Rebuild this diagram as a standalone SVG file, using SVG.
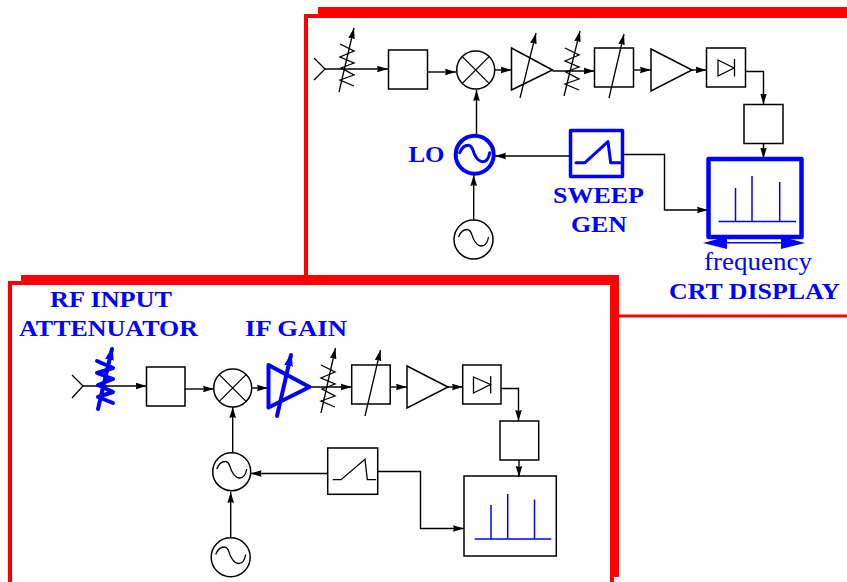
<svg xmlns="http://www.w3.org/2000/svg" width="847" height="582" viewBox="0 0 847 582">
<style>
.c{fill:none;stroke:#000;stroke-width:1.4}
.n{fill:none;stroke:#000;stroke-width:1.5}
.t{fill:none;stroke:#000;stroke-width:1.3}
.b{fill:none;stroke:#00f;stroke-width:4;stroke-linecap:round;stroke-linejoin:round}
.bs{fill:none;stroke:#00f;stroke-width:1.5}
.w{fill:#00f;stroke:none}
.red{fill:#f00;stroke:none}
text{fill:#00f;font-family:"Liberation Serif","DejaVu Serif",serif}
.l{font-weight:bold;font-size:24px}
.f{font-size:25px}
</style>
<defs>
<marker id="a" markerUnits="userSpaceOnUse" markerWidth="13" markerHeight="10" refX="11" refY="5" orient="auto"><path d="M0,1.700 L11,5 L0,8.300 L1,5 Z" fill="#000"/></marker>
<marker id="ab" markerUnits="userSpaceOnUse" markerWidth="14" markerHeight="12" refX="11" refY="6" orient="auto"><path d="M0,2.500 L11,6 L0,9.500 Z" fill="#00f" stroke="#00f" stroke-width="1.500" stroke-linejoin="round"/></marker>
<path id="sine" d="M-15,-4 C-13,-9 -10,-11.500 -6.500,-11.500 C-2,-11.500 -2,-6 0,-2 C2,2 4.500,5 8,5 C11,5 14,2 15,-4"/>
<path id="zig" d="M340,44 L354,51 L340,57 L354,63 L341,68 L354,75 L340,80 L354,86"/>
</defs>

<g id="frames">
<path class="red" d="M318,7 H847 V18 H308 V275 H304 V14 H318 Z"/>
<rect class="red" x="618" y="314.500" width="229" height="3"/>
<path class="red" d="M21,275 H619 V577 H614 V582 H610 V285 H12 V582 H8 V281 H21 Z"/>
</g>

<g id="connectors">
<path class="c" marker-end="url(#a)" d="M325,69 H388"/>
<path class="c" marker-end="url(#a)" d="M427.500,72 H456"/>
<path class="c" marker-end="url(#a)" d="M495,70 H511.500"/>
<path class="c" marker-end="url(#a)" d="M552.500,71 H594.500"/>
<path class="c" marker-end="url(#a)" d="M633,70 H651"/>
<path class="c" marker-end="url(#a)" d="M692,70 H706.500"/>
<path class="c" marker-end="url(#a)" d="M745,71.500 H763.500 V104.500"/>
<path class="c" marker-end="url(#a)" d="M763.500,143 V158.500"/>
<path class="c" marker-end="url(#a)" d="M476.500,135 V90"/>
<path class="c" marker-end="url(#a)" d="M570,156 H495"/>
<path class="c" marker-end="url(#a)" d="M473.700,219.500 V175"/>
<path class="c" marker-end="url(#a)" d="M622,154.500 H664.500 V210 H708"/>
<path class="c" marker-end="url(#a)" d="M83,386 H146.500"/>
<path class="c" marker-end="url(#a)" d="M184.500,389 H214"/>
<path class="c" marker-end="url(#a)" d="M252,388 H268"/>
<path class="c" marker-end="url(#a)" d="M310,387 H351.500"/>
<path class="c" marker-end="url(#a)" d="M390,387 H407"/>
<path class="c" marker-end="url(#a)" d="M448,387 H463"/>
<path class="c" marker-end="url(#a)" d="M501,388.500 H518.500 V421"/>
<path class="c" marker-end="url(#a)" d="M519,460 V477"/>
<path class="c" marker-end="url(#a)" d="M232.700,452 V407"/>
<path class="c" marker-end="url(#a)" d="M327.500,473.500 H250.500"/>
<path class="c" marker-end="url(#a)" d="M230.700,538 V492"/>
<path class="c" marker-end="url(#a)" d="M377.500,471.500 H420.500 V528.500 H464"/>
</g>

<g id="top-antenna"><path class="t" d="M314,58 L325,69 L314,80"/></g>
<g id="top-attenuator"><use href="#zig" class="t"/><path class="t" marker-end="url(#a)" d="M339,92 L354,28"/></g>
<g id="top-filter1"><rect class="n" x="388.500" y="50" width="39" height="39"/></g>
<g id="top-mixer"><circle class="n" cx="475.700" cy="70" r="19"/><path class="t" d="M462.300,56.600 L489.100,83.400 M489.100,56.600 L462.300,83.400"/></g>
<g id="top-if-amp"><path class="n" d="M511.500,48 L552.500,70 L511.500,90 Z"/><path class="t" marker-end="url(#a)" d="M520,98 L536,33"/></g>
<g id="top-attenuator2"><use href="#zig" class="t" transform="translate(225,4)"/><path class="t" marker-end="url(#a)" d="M564,96 L580,31"/></g>
<g id="top-filter2"><rect class="n" x="594.500" y="48" width="39" height="39"/><path class="t" marker-end="url(#a)" d="M609,98 L624,34"/></g>
<g id="top-amp"><path class="n" d="M651,49 L692,70 L651,91 Z"/></g>
<g id="top-detector"><rect class="n" x="706.500" y="48" width="39" height="39"/><path class="t" d="M718,60 L734,68 L718,76 Z M734.500,59 V76.500"/></g>
<g id="top-filter3"><rect class="n" x="744" y="104.500" width="39" height="39"/></g>
<g id="top-lo"><circle cx="474.700" cy="154.700" r="19" fill="none" stroke="#00f" stroke-width="4"/><use href="#sine" class="b" style="stroke-width:3" transform="translate(474.700,156.700)"/></g>
<g id="top-ref-osc"><circle class="n" cx="473.500" cy="239.500" r="19.500"/><use href="#sine" class="t" transform="translate(473.500,241)"/></g>
<g id="top-sweep"><rect x="570.500" y="130.500" width="52" height="46" fill="none" stroke="#00f" stroke-width="3.500" stroke-linejoin="round"/><path class="b" style="stroke-width:3" d="M576,162.700 H585 L608,141.700 L610.700,162.700 H620"/></g>
<g id="top-crt">
<rect x="708.500" y="159" width="93" height="78" fill="none" stroke="#00f" stroke-width="4.500" stroke-linejoin="round"/>
<path class="bs" d="M718.500,221.500 H796 M735.500,221.500 V188 M752,221.500 V176 M779.700,221.500 V182"/>
<path class="w" d="M703,243 L727,236.500 V249 Z M805,243 L781,236.500 V249 Z"/>
<path class="bs" d="M727,242.700 H781"/>
</g>
<g id="top-labels">
<text class="l" x="408.500" y="162" textLength="36" lengthAdjust="spacingAndGlyphs">LO</text>
<text class="l" x="553" y="203" textLength="91" lengthAdjust="spacingAndGlyphs">SWEEP</text>
<text class="l" x="571" y="232" textLength="56" lengthAdjust="spacingAndGlyphs">GEN</text>
<text class="f" x="704" y="270" textLength="108" lengthAdjust="spacingAndGlyphs">frequency</text>
<text class="l" x="669" y="299" textLength="171" lengthAdjust="spacingAndGlyphs">CRT DISPLAY</text>
</g>

<g id="low-antenna"><path class="t" d="M72,375 L83,386 L72,398"/></g>
<g id="low-attenuator"><path class="b" d="M97,361 L113,368 L97,373 L113,379 L98,385 L113,392 L98,397 L113,403"/><path class="b" marker-end="url(#ab)" d="M98,409 L112,349"/></g>
<g id="low-filter1"><rect class="n" x="146.500" y="367" width="38.500" height="39"/></g>
<g id="low-mixer"><circle class="n" cx="232.700" cy="388" r="19"/><path class="t" d="M219.300,374.600 L246.100,401.400 M246.100,374.600 L219.300,401.400"/></g>
<g id="low-if-amp"><path class="b" d="M268.500,365 L309.500,387 L268.500,407.500 Z"/><path class="b" marker-end="url(#ab)" d="M277,416 L291,355"/></g>
<g id="low-attenuator2"><use href="#zig" class="t" transform="translate(-19,321)"/><path class="t" marker-end="url(#a)" d="M321,413 L335.500,348"/></g>
<g id="low-filter2"><rect class="n" x="351.700" y="365" width="38.500" height="39"/><path class="t" marker-end="url(#a)" d="M365,416 L380.500,350"/></g>
<g id="low-amp"><path class="n" d="M407,366 L448,387 L407,408 Z"/></g>
<g id="low-detector"><rect class="n" x="462.700" y="365" width="38.300" height="39"/><path class="t" d="M473.500,377 L490.500,384.500 L473.500,393 Z M490.700,376 V393.500"/></g>
<g id="low-filter3"><rect class="n" x="500" y="421" width="38.700" height="39"/></g>
<g id="low-lo"><circle class="n" cx="231.700" cy="471.700" r="19"/><use href="#sine" class="t" transform="translate(231.700,473)"/></g>
<g id="low-ref-osc"><circle class="n" cx="230.700" cy="557.300" r="19.500"/><use href="#sine" class="t" transform="translate(230.700,558.500)"/></g>
<g id="low-sweep"><rect class="n" x="327.700" y="448" width="50" height="46.300"/><path class="t" d="M332.700,479.700 H341 L365,459.300 L367.300,479.700 H376"/></g>
<g id="low-crt"><rect class="n" x="464" y="476" width="92.300" height="80"/><path class="bs" d="M474.700,539 H551.300 M491,539 V505 M507.700,539 V494 M534.500,539 V499.500"/></g>
<g id="low-labels">
<text class="l" x="50" y="306.500" textLength="122" lengthAdjust="spacingAndGlyphs">RF INPUT</text>
<text class="l" x="19" y="335.500" textLength="179" lengthAdjust="spacingAndGlyphs">ATTENUATOR</text>
<text class="l" x="245" y="335.500" textLength="102" lengthAdjust="spacingAndGlyphs">IF GAIN</text>
</g>
</svg>
